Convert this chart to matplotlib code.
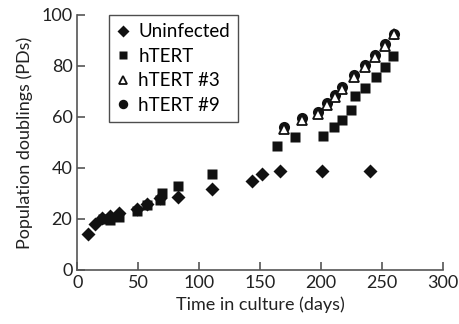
import matplotlib
matplotlib.use('Agg')
import matplotlib.pyplot as plt

plt.rcParams['font.family'] = ['Lato', 'DejaVu Sans']

# Uninfected cells
dias_uninf = [9, 14.5, 20, 26.8, 34.4, 48.6, 57.6, 67.7, 82.8, 110.5, 143.4, 151.9, 166, 201, 240.3]
pd_uninf = [14.1, 18, 20.3, 21.2, 22.5, 23.9, 25.9, 28.1, 28.6, 31.7, 34.9, 37.5, 38.9, 38.9, 38.9]

# hTERT
dias_htert = [20.8, 26.8, 34.4, 48.6, 57.6, 67.7, 69.8, 82.8, 110.6, 164, 179, 201.5, 211, 217.4,
              224.5, 227.5, 235.7, 244.7, 252.3, 259.2]
pd_htert = [19.9, 19.6, 20.7, 23.1, 25.5, 27.6, 30.3, 33, 37.5, 48.7, 52, 52.5, 56.2, 58.6,
            62.7, 68.2, 71.4, 75.6, 79.7, 84]

# hTERT #3
dias_h3 = [169.3, 184.6, 197.4, 205, 211.4, 217, 227, 235.7, 244.4, 252.3, 259.7]
pd_h3 = [55.2, 58.8, 61.1, 64.8, 67.7, 71, 75.8, 79.4, 83.6, 87.7, 92.6]

# hTERT #9
dias_h9 = [169.3, 184.6, 197.4, 205, 211.4, 217, 227, 235.7, 244.4, 252.3, 259.7]
pd_h9 = [56, 59.6, 61.9, 65.6, 68.5, 71.8, 76.6, 80.2, 84.4, 88.5, 92.4]

fig = plt.figure(figsize=(4.6, 3.24), dpi=100)
ax = fig.add_axes([0.168, 0.167, 0.795, 0.787])

ax.plot(dias_uninf, pd_uninf, 'D', color='#111111', ms=6.8, mec='none', label='Uninfected', zorder=3)
ax.plot(dias_htert, pd_htert, 's', color='#111111', ms=7.5, mec='none', label='hTERT', zorder=3)
ax.plot(dias_h9, pd_h9, 'o', color='#111111', ms=8, mec='none', label='hTERT #9', zorder=4)
ax.plot(dias_h3, pd_h3, '^', color='white', ms=7.5, mec='#111111', mew=1.3, label='hTERT #3', zorder=5)

ax.set_xlim(0, 300)
ax.set_ylim(0, 100)
ax.set_xticks(range(0, 301, 50))
ax.set_yticks(range(0, 101, 20))
ax.set_xlabel('Time in culture (days)', fontsize=13, color='#222222', labelpad=4)
ax.set_ylabel('Population doublings (PDs)', fontsize=13, color='#222222', labelpad=6)

for s in ['top', 'right']:
    ax.spines[s].set_visible(False)
for s in ['left', 'bottom']:
    ax.spines[s].set_color('#555555')
    ax.spines[s].set_linewidth(1.2)
ax.tick_params(direction='in', length=6, width=1.2, color='#555555',
               labelsize=13, labelcolor='#222222')

handles, labels = ax.get_legend_handles_labels()
orden = [0, 1, 3, 2]
leg = ax.legend([handles[i] for i in orden], [labels[i] for i in orden],
                loc='upper left', bbox_to_anchor=(0.087, 1.0), borderaxespad=0,
                fancybox=False, edgecolor='#222222', fontsize=13.5,
                handlelength=0.6, handletextpad=0.5, labelspacing=0.4,
                borderpad=0.45, markerscale=0.85)
leg.get_frame().set_linewidth(1.0)

fig.savefig('out.png', dpi=100)
